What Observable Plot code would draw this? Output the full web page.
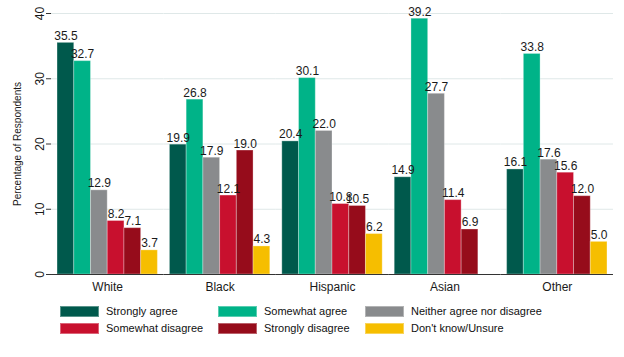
<!DOCTYPE html>
<html>
<head>
<meta charset="utf-8">
<script src="https://cdn.jsdelivr.net/npm/d3@7"></script>
<script src="https://cdn.jsdelivr.net/npm/@observablehq/plot@0.6"></script>
<style>
  html, body { margin: 0; padding: 0; background: #fff; }
  #wrap { position: relative; width: 624px; height: 357px; font-family: "Liberation Sans", Arial, sans-serif; }
  #legend { position: absolute; left: 0; top: 300px; width: 624px; height: 57px; }
  .item { position: absolute; display: flex; align-items: center; font-size: 11px; color: #111; white-space: nowrap; }
  .sw { width: 39px; height: 11px; margin-right: 7px; box-sizing: border-box; border: 1px solid rgba(255,255,255,0.35); }
</style>
</head>
<body>
<div id="wrap"><div id="chart"></div><div id="legend"></div></div>
<script>
const groups = ["White", "Black", "Hispanic", "Asian", "Other"];
const responses = ["Strongly agree", "Somewhat agree", "Neither agree nor disagree", "Somewhat disagree", "Strongly disagree", "Don't know/Unsure"];
const colors = ["#00594c", "#00b388", "#898b8d", "#c8102e", "#960c1b", "#f6be00"];
const whiteVals = [35.5, 32.7, 12.9, 8.2, 7.1, 3.7];
const blackVals = [19.9, 26.8, 17.9, 12.1, 19.0, 4.3];
const hispanicVals = [20.4, 30.1, 22.0, 10.8, 10.5, 6.2];
const asianVals = [14.9, 39.2, 27.7, 11.4, 6.9, null];
const otherVals = [16.1, 33.8, 17.6, 15.6, 12.0, 5.0];
const yTicks = [0, 10, 20, 30, 40];
const yLabel = "Percentage of Respondents";

const series = [whiteVals, blackVals, hispanicVals, asianVals, otherVals];
const data = [];
groups.forEach((g, i) => series[i].forEach((v, j) => {
  if (v != null) data.push({group: g, response: responses[j], value: v});
}));

const half = 6; // half the gap between groups, px
const firstGroup = () => groups[0];

const chart = Plot.plot({
  width: 624,
  height: 300,
  marginTop: 13,
  marginLeft: 51,
  marginRight: 11,
  marginBottom: 26,
  style: {fontFamily: "Liberation Sans, Arial, sans-serif", fontSize: "12px", background: "#fff", color: "#222"},
  fx: {domain: groups, paddingInner: 0.1071, paddingOuter: 0.0536, label: null, round: false},
  x: {domain: responses, padding: 0, axis: null, round: false},
  y: {domain: [0, 40], axis: null},
  color: {domain: responses, range: colors},
  marks: [
    Plot.ruleY(yTicks, {stroke: "#dfe8e8", insetLeft: -half, insetRight: -half}),
    Plot.barY(data, {fx: "group", x: "response", y: "value", fill: "response", stroke: "#fff", strokeOpacity: 0.3, strokeWidth: 1}),
    Plot.text(data, {fx: "group", x: "response", y: "value", text: d => d.value.toFixed(1), lineAnchor: "bottom", dy: -3, fill: "#1a1a1a", fontSize: 12}),
    Plot.axisFx({anchor: "bottom", tickSize: 0, tickPadding: 8, label: null, fontSize: 12, fill: "#1a1a1a"}),
    Plot.axisY({ticks: yTicks, tickSize: 5, tickFormat: () => "", label: null, line: true, stroke: "#333", dx: -half}),
    Plot.ruleY([0], {stroke: "#333", insetLeft: -half, insetRight: -half}),
    Plot.text(yTicks, {fx: firstGroup, y: d => d, text: d => String(d), frameAnchor: "left", textAnchor: "middle", dx: -17.5, rotate: -90, fontSize: 12, fill: "#1a1a1a"}),
    Plot.text([yLabel], {fx: firstGroup, text: d => d, frameAnchor: "left", textAnchor: "middle", dx: -40, rotate: -90, fontSize: 10, fill: "#1a1a1a"})
  ]
});
document.getElementById("chart").appendChild(chart);

const legend = document.getElementById("legend");
const colLeft = [60, 218, 365];
responses.forEach((r, i) => {
  const col = i % 3, row = Math.floor(i / 3);
  const it = document.createElement("div");
  it.className = "item";
  it.style.left = colLeft[col] + "px";
  it.style.top = (5 + row * 17) + "px";
  const sw = document.createElement("span");
  sw.className = "sw";
  sw.style.background = colors[i];
  const t = document.createElement("span");
  t.textContent = r;
  it.appendChild(sw);
  it.appendChild(t);
  legend.appendChild(it);
});
</script>
</body>
</html>
